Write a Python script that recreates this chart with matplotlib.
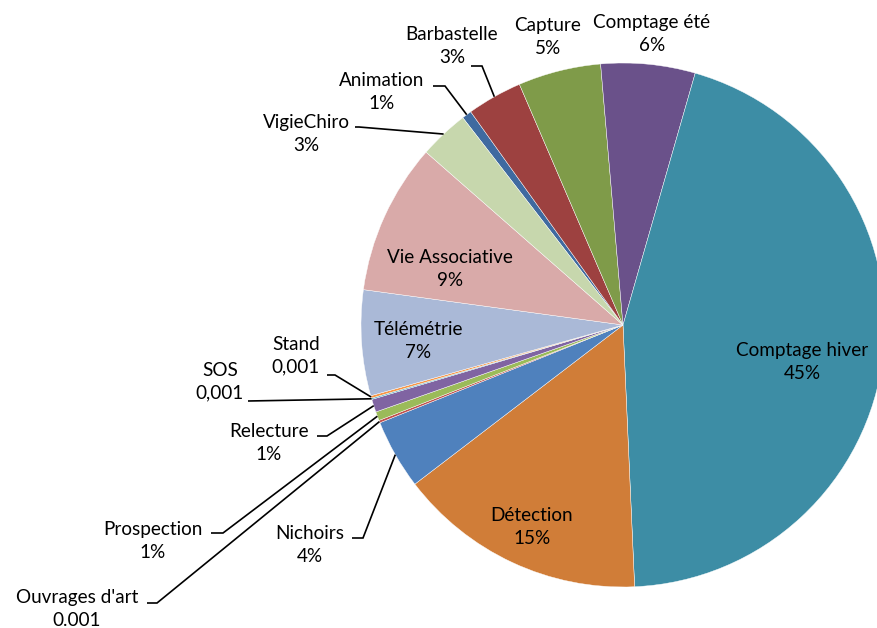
import matplotlib
matplotlib.use("Agg")
import matplotlib.pyplot as plt
import numpy as np

# ---- data ----
categories = ["Animation", "Barbastelle", "Capture", "Comptage été", "Comptage hiver",
              "Détection", "Nichoirs", "Ouvrages d'art", "Prospection", "Relecture",
              "SOS", "Stand", "Télémétrie", "Vie Associative", "VigieChiro"]
values = [0.6, 3.4, 5.1, 5.8, 44.8, 15.3, 4.3, 0.15, 0.55, 0.8, 0.08, 0.15, 6.5, 9.3, 3.06]
value_labels = ["1%", "3%", "5%", "6%", "45%", "15%", "4%", "0.001", "1%", "1%",
                "0,001", "0,001", "7%", "9%", "3%"]
colors = ["#3F6AA0", "#9D4140", "#7F9B49", "#6A518A", "#3D8DA5", "#D07D38",
          "#4F81BD", "#C0504D", "#9BBB59", "#8064A2", "#4BACC6", "#F79646",
          "#AAB9D7", "#D9AAA9", "#C7D7AD"]

# ---- layout (pixel coordinates, top-left origin) ----
W, H = 877, 628
CX, CY, R = 623, 325, 262
START_CW_FROM_TOP = 322.3  # angle of first slice, clockwise from 12 o'clock

# label centre, leader start (x, y) and elbow length (signed); None = no leader
label_layout = {
    "Animation":       ((382, 92),  (433, 86), 12),
    "Barbastelle":     ((452, 46),  (471, 66), 11),
    "Capture":         ((548, 37),  None, 0),
    "Comptage été":    ((652, 34),  None, 0),
    "Comptage hiver":  ((802, 362), None, 0),
    "Détection":       ((532, 527), None, 0),
    "Nichoirs":        ((310, 545), (352, 538), 11),
    "Ouvrages d'art":  ((77, 609),  (147, 603), 10),
    "Prospection":     ((153, 541), (211, 533), 12),
    "Relecture":       ((269, 443), (317, 436), 10),
    "SOS":             ((220, 382), (248, 401), 0),
    "Stand":           ((296, 356), (327, 375), 8),
    "Télémétrie":      ((418, 341), None, 0),
    "Vie Associative": ((450, 269), None, 0),
    "VigieChiro":      ((306, 134), (355, 127), 4),
}


def P(x, y):
    return x, H - y


fig = plt.figure(figsize=(W / 100, H / 100), dpi=100)
ax = fig.add_axes([0, 0, 1, 1])

wedges, _ = ax.pie(values, colors=colors, startangle=90 - START_CW_FROM_TOP,
                   counterclock=False, center=P(CX, CY), radius=R,
                   wedgeprops=dict(linewidth=0.3, edgecolor="white"))
ax.set_xlim(0, W)
ax.set_ylim(0, H)
ax.set_aspect("equal")
ax.axis("off")

font = dict(family=["Lato", "DejaVu Sans"], fontsize=13.6, color="black")

for w, name, vl in zip(wedges, categories, value_labels):
    (tx, ty), start, elbow = label_layout[name]
    ax.text(*P(tx, ty), f"{name}\n{vl}", ha="center", va="center",
            multialignment="center", linespacing=1.4, **font)
    if start is not None:
        mid = np.deg2rad((w.theta1 + w.theta2) / 2)
        ex = w.center[0] + w.r * np.cos(mid)
        ey = w.center[1] + w.r * np.sin(mid)
        sx, sy = P(*start)
        ax.plot([sx, sx + elbow, ex], [sy, sy, ey], color="black", lw=1.2,
                solid_capstyle="butt", solid_joinstyle="miter")

fig.savefig("out.png", dpi=100)
